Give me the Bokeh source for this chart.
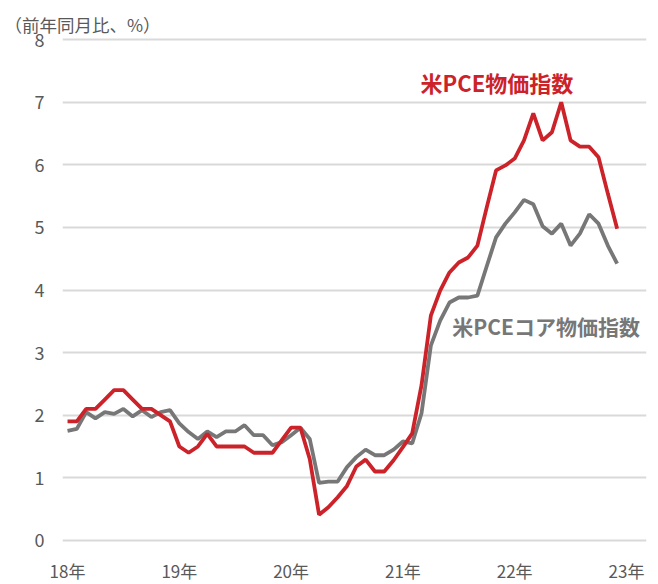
from bokeh.plotting import figure
from bokeh.models import Range1d, FixedTicker, Label, ColumnDataSource
from bokeh.embed import file_html
from bokeh.resources import INLINE

# Monthly data, Jan 2018 .. Dec 2022 (year-over-year %)
pce = [1.9, 1.9, 2.1, 2.1, 2.25, 2.4, 2.4, 2.25, 2.1, 2.1, 2.0, 1.9,
       1.5, 1.4, 1.5, 1.7, 1.5, 1.5, 1.5, 1.5, 1.4, 1.4, 1.4, 1.6,
       1.8, 1.8, 1.3, 0.41, 0.53, 0.69, 0.87, 1.18, 1.29, 1.1, 1.1, 1.28,
       1.49, 1.71, 2.48, 3.59, 3.99, 4.28, 4.44, 4.52, 4.71, 5.32, 5.91, 5.99,
       6.1, 6.39, 6.82, 6.39, 6.52, 7.0, 6.39, 6.29, 6.29, 6.12, 5.54, 4.98]
core = [1.75, 1.78, 2.05, 1.95, 2.05, 2.02, 2.1, 1.98, 2.08, 1.97, 2.05, 2.08,
        1.87, 1.73, 1.62, 1.74, 1.65, 1.74, 1.74, 1.84, 1.68, 1.68, 1.52, 1.57,
        1.68, 1.8, 1.62, 0.92, 0.94, 0.94, 1.17, 1.33, 1.45, 1.36, 1.36, 1.45,
        1.58, 1.55, 2.03, 3.11, 3.51, 3.80, 3.88, 3.88, 3.91, 4.38, 4.84, 5.06,
        5.24, 5.44, 5.37, 5.02, 4.9, 5.06, 4.71, 4.9, 5.21, 5.06, 4.71, 4.42]
months = list(range(len(pce)))
year_ticks = [0, 12, 24, 36, 48, 60]
year_labels = ["18年", "19年", "20年", "21年", "22年", "23年"]
y_ticks = [0, 1, 2, 3, 4, 5, 6, 7, 8]

FONT = "Noto Sans CJK JP"
RED = "#cc2229"
GRAY = "#777777"
TXT = "#595959"

src = ColumnDataSource(dict(x=months, pce=pce, core=core))

p = figure(frame_width=584, frame_height=507, output_backend="svg",
           toolbar_location=None,
           x_range=Range1d(-0.54, 62.15), y_range=Range1d(-0.05, 8.05),
           min_border_left=62, min_border_right=12, min_border_top=36,
           min_border_bottom=41)
p.outline_line_color = None
p.background_fill_color = "white"
p.border_fill_color = "white"

p.title.text = "（前年同月比、%）"
p.title.align = "left"
p.title.offset = -58
p.title.standoff = 0
p.title.text_font = FONT
p.title.text_font_size = "17.5px"
p.title.text_font_style = "normal"
p.title.text_color = TXT

p.line("x", "core", source=src, line_color=GRAY, line_width=3.8)
p.line("x", "pce", source=src, line_color=RED, line_width=3.8)

p.xaxis.ticker = FixedTicker(ticks=year_ticks)
p.xaxis.major_label_overrides = {t: l for t, l in zip(year_ticks, year_labels)}
p.yaxis.ticker = FixedTicker(ticks=y_ticks)
for ax in (p.xaxis, p.yaxis):
    ax.axis_line_color = None
    ax.major_tick_line_color = None
    ax.minor_tick_line_color = None
    ax.major_tick_out = 0
    ax.major_tick_in = 0
    ax.major_label_text_font = FONT
    ax.major_label_text_font_size = "17px"
    ax.major_label_text_color = TXT
p.yaxis.major_label_text_font_size = "18px"
p.xaxis.major_label_standoff = 14
p.yaxis.major_label_standoff = 18

p.xgrid.grid_line_color = None
p.ygrid.ticker = FixedTicker(ticks=y_ticks)
p.ygrid.grid_line_color = "#d9d9d9"
p.ygrid.grid_line_width = 2

p.add_layout(Label(x=37.9, y=7.32, text="米PCE物価指数", text_font=FONT,
                   text_font_size="22px", text_font_style="bold", text_color=RED,
                   text_baseline="middle"))
p.add_layout(Label(x=41.3, y=3.42, text="米PCEコア物価指数", text_font=FONT,
                   text_font_size="21px", text_font_style="bold", text_color=GRAY,
                   text_baseline="middle"))

open("out.html", "w").write(file_html(p, INLINE))
